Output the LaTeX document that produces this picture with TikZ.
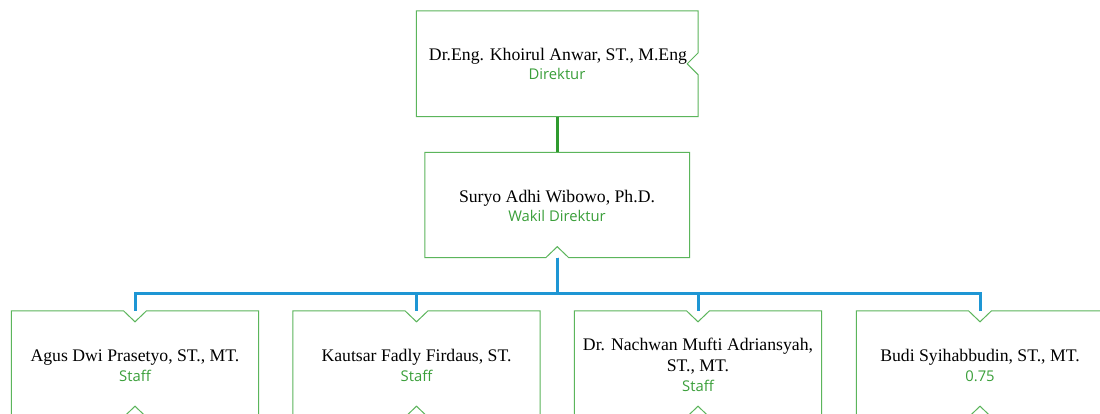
\documentclass[tikz,border=0pt]{standalone}
\usepackage{fontspec}
\setmainfont{Liberation Serif}
\newfontfamily\subfont{Open Sans}
\usetikzlibrary{calc}
\definecolor{boxgreen}{HTML}{5BB55B}
\definecolor{subgreen}{HTML}{3A9F3A}
\definecolor{linkgreen}{HTML}{2E9A2E}
\definecolor{busblue}{HTML}{1E96D4}
\begin{document}
\begin{tikzpicture}[x=1pt,y=-1pt,
  boxnode/.style={draw=none,rectangle,inner sep=0pt},
  boxline/.style={draw=boxgreen,line width=1pt,line join=miter},
  persname/.style={inner sep=0pt,anchor=base,font=\fontsize{17.7}{20}\selectfont,text=black},
  roletext/.style={inner sep=0pt,anchor=base,font=\subfont\fontsize{14.8}{16}\selectfont,text=subgreen},
  greenlink/.style={draw=linkgreen,line width=3pt},
  buslink/.style={draw=busblue,line width=3pt,line join=miter}]
\clip (0,0) rectangle (1100,414);
\fill[white] (0,0) rectangle (1100,414);

% box placeholders
\node[boxnode,minimum width=281.5pt,minimum height=105.5pt] (dir) at (557.25,63.75) {};
\node[boxnode,minimum width=264.5pt,minimum height=105pt] (vd) at (557.25,205) {};
\node[boxnode,minimum width=247pt,minimum height=106pt] (s1) at (135,364) {};
\node[boxnode,minimum width=247pt,minimum height=106pt] (s2) at (416.5,364) {};
\node[boxnode,minimum width=247pt,minimum height=106pt] (s3) at (698,364) {};
\node[boxnode,minimum width=247pt,minimum height=106pt] (s4) at (980,364) {};

% outlines
\draw[boxline] (dir.north west) -- (dir.north east) -- ($(dir.north east)+(0,42)$) -- ($(dir.north east)+(-11,53)$) -- ($(dir.north east)+(0,64)$) -- (dir.south east) -- (dir.south west) -- cycle;
\draw[boxline] (vd.north west) -- (vd.north east) -- (vd.south east) -- ($(vd.south)+(11.5,0)$) -- ($(vd.south)+(0,-11)$) -- ($(vd.south)+(-11.5,0)$) -- (vd.south west) -- cycle;
\foreach \b in {s1,s2,s3,s4}{
  \draw[boxline] (\b.north west) -- ($(\b.north)+(-11.5,0)$) -- ($(\b.north)+(0,11)$) -- ($(\b.north)+(11.5,0)$) -- (\b.north east) -- (\b.south east) -- ($(\b.south)+(11.5,0)$) -- ($(\b.south)+(0,-11)$) -- ($(\b.south)+(-11.5,0)$) -- (\b.south west) -- cycle;
}

% connectors
\draw[greenlink] (dir.south) -- (vd.north);
\coordinate (bus) at (557.25,293);
\foreach \b in {s1,s2,s3,s4}{
  \draw[buslink] (vd.south) -- (bus) -| (\b.north);
}

% texts
\node[persname] (dirname) at (558,60.5) {Dr.Eng. Khoirul Anwar, ST., M.Eng};
\node[roletext] (dirrole) at (557,80) {Direktur};
\node[persname] (vdname) at (557,202.5) {Suryo Adhi Wibowo, Ph.D.};
\node[roletext] (vdrole) at (557,222) {Wakil Direktur};
\node[persname] (s1name) at (135,361) {Agus Dwi Prasetyo, ST., MT.};
\node[roletext] (s1role) at (135,381) {Staff};
\node[persname] (s2name) at (416.5,361) {Kautsar Fadly Firdaus, ST.};
\node[roletext] (s2role) at (416.5,381) {Staff};
\node[persname] (s3namea) at (698,350.5) {Dr. Nachwan Mufti Adriansyah,};
\node[persname] (s3nameb) at (698,371.5) {ST., MT.};
\node[roletext] (s3role) at (698,391.5) {Staff};
\node[persname] (s4name) at (980,361) {Budi Syihabbudin, ST., MT.};
\node[roletext] (s4role) at (980,381) {0.75};
\end{tikzpicture}
\end{document}
